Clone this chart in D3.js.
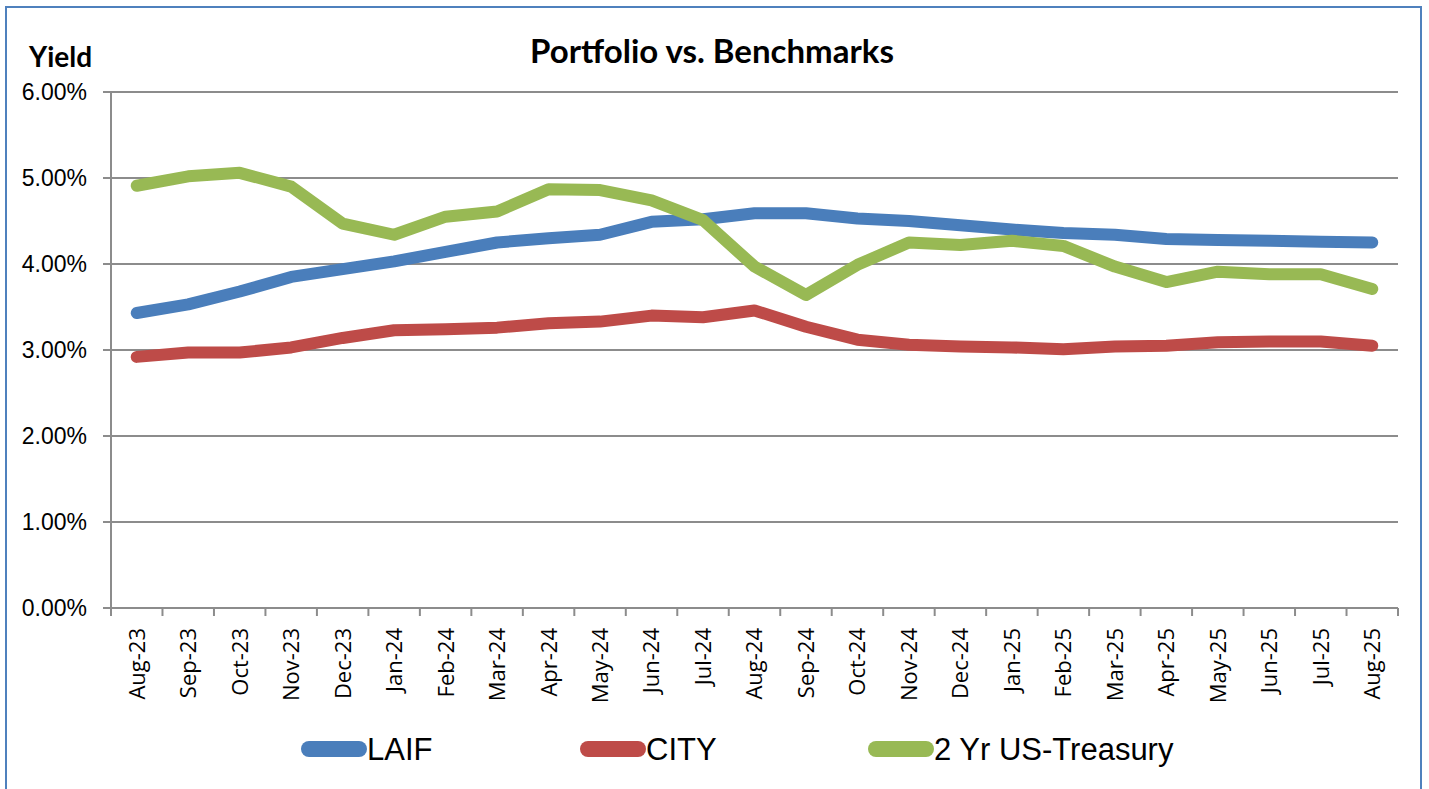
<!DOCTYPE html>
<html>
<head>
<meta charset="utf-8">
<script src="https://cdn.jsdelivr.net/npm/d3@7"></script>
<style>
  body { margin: 0; background: #fff; }
  svg { display: block; }
  .ylab { font-family: "Liberation Sans", Arial, sans-serif; font-size: 23px; fill: #000; }
  .xlab { font-family: "Open Sans", "DejaVu Sans", sans-serif; font-size: 22px; fill: #000; }
  .legend text { font-family: "Liberation Sans Narrow", "Liberation Sans", sans-serif; font-size: 31px; fill: #000; }
</style>
</head>
<body>
<div id="chart"></div>
<script>
const months = ["Aug-23","Sep-23","Oct-23","Nov-23","Dec-23","Jan-24","Feb-24","Mar-24","Apr-24","May-24","Jun-24","Jul-24","Aug-24","Sep-24","Oct-24","Nov-24","Dec-24","Jan-25","Feb-25","Mar-25","Apr-25","May-25","Jun-25","Jul-25","Aug-25"];

const laif = [3.43,3.53,3.68,3.85,3.94,4.03,4.14,4.25,4.30,4.34,4.49,4.52,4.59,4.59,4.53,4.50,4.45,4.40,4.36,4.34,4.29,4.28,4.27,4.26,4.25];
const city = [2.92,2.97,2.97,3.03,3.14,3.23,3.24,3.26,3.31,3.33,3.40,3.38,3.46,3.27,3.12,3.06,3.04,3.03,3.01,3.04,3.05,3.09,3.10,3.10,3.05];
const treasury = [4.91,5.02,5.06,4.90,4.47,4.34,4.55,4.61,4.87,4.86,4.74,4.51,3.97,3.64,3.99,4.25,4.22,4.27,4.21,3.97,3.79,3.91,3.88,3.88,3.71];

const yTicks = [0,1,2,3,4,5,6];
const seriesNames = ["LAIF","CITY","2 Yr US-Treasury"];
const seriesColors = ["#4A7EBB","#BE4B48","#98B954"];

const W = 1429, H = 789;
const margin = { left: 111, right: 31, top: 92, bottom: 181 };
const innerW = W - margin.left - margin.right;
const innerH = H - margin.top - margin.bottom;

const svg = d3.select("#chart").append("svg")
  .attr("width", W).attr("height", H);

// outer frame
svg.append("rect")
  .attr("x", 6).attr("y", 7)
  .attr("width", 1415).attr("height", 800)
  .attr("fill", "none")
  .attr("stroke", "#4F81BD")
  .attr("stroke-width", 2);

svg.append("text")
  .attr("x", 712).attr("y", 63)
  .attr("text-anchor", "middle")
  .style("font-family", "Lato, 'Liberation Sans', sans-serif")
  .style("font-weight", "bold")
  .style("font-size", "33px")
  .text("Portfolio vs. Benchmarks");

svg.append("text")
  .attr("x", 29).attr("y", 67)
  .style("font-family", "Lato, 'Liberation Sans', sans-serif")
  .style("font-weight", "bold")
  .style("font-size", "28px")
  .text("Yield");

const g = svg.append("g")
  .attr("transform", `translate(${margin.left},${margin.top})`);

const x = d3.scaleBand()
  .domain(months)
  .range([0, innerW])
  .padding(0);

const y = d3.scaleLinear()
  .domain([0, 6])
  .range([innerH, 0]);

// gridlines
g.selectAll(".grid")
  .data(yTicks).enter()
  .append("line")
    .attr("x1", -8).attr("x2", innerW)
    .attr("y1", d => y(d)).attr("y2", d => y(d))
    .attr("stroke", "#8C8C8C")
    .attr("stroke-width", 2);

// y axis line
g.append("line")
  .attr("x1", 0).attr("x2", 0)
  .attr("y1", 0).attr("y2", innerH + 8)
  .attr("stroke", "#8C8C8C")
  .attr("stroke-width", 2);

// x ticks at band boundaries
const bounds = months.map((d, i) => i + 1);
g.selectAll(".xtick")
  .data(bounds).enter()
  .append("line")
    .attr("x1", d => d * x.step()).attr("x2", d => d * x.step())
    .attr("y1", innerH).attr("y2", innerH + 8)
    .attr("stroke", "#8C8C8C")
    .attr("stroke-width", 2);

// y labels
g.selectAll(".ylab")
  .data(yTicks).enter()
  .append("text")
    .attr("class", "ylab")
    .attr("x", -24)
    .attr("y", d => y(d))
    .attr("dy", "0.36em")
    .attr("text-anchor", "end")
    .text(d => d3.format(".2f")(d) + "%");

// x labels
g.selectAll(".xlab")
  .data(months).enter()
  .append("text")
    .attr("class", "xlab")
    .attr("transform", d => `translate(${x(d) + x.bandwidth() / 2},${innerH + 20}) rotate(-90)`)
    .attr("dy", "0.36em")
    .attr("text-anchor", "end")
    .text(d => d);

const line = d3.line()
  .x((d, i) => x(months[i]) + x.bandwidth() / 2)
  .y(d => y(d));

[laif, city, treasury].forEach(function(vals, i) {
  g.append("path")
    .datum(vals)
    .attr("d", line)
    .attr("fill", "none")
    .attr("stroke", seriesColors[i])
    .attr("stroke-width", 12)
    .attr("stroke-linecap", "round")
    .attr("stroke-linejoin", "round");
});

// legend
const legendX = [309, 588, 876];
const legend = svg.append("g").attr("class", "legend");
seriesNames.forEach(function(name, i) {
  legend.append("line")
    .attr("x1", legendX[i]).attr("x2", legendX[i] + 50)
    .attr("y1", 749).attr("y2", 749)
    .attr("stroke", seriesColors[i])
    .attr("stroke-width", 16)
    .attr("stroke-linecap", "round");
  legend.append("text")
    .attr("x", legendX[i] + 58)
    .attr("y", 760)
    .text(name);
});
</script>
</body>
</html>
